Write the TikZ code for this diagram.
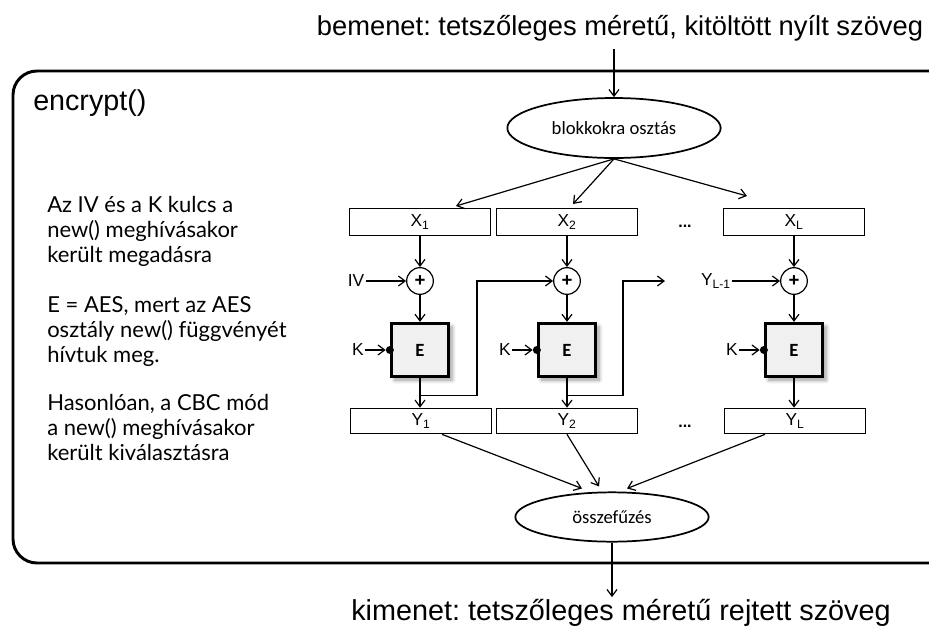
\documentclass[tikz,border=0pt]{standalone}
\usepackage{fontspec}
\setmainfont{Liberation Sans}
\newfontfamily\calib{Carlito}
\newfontfamily\handf{Lato}
\frenchspacing
\usetikzlibrary{arrows.meta,shapes.geometric,shadows.blur,calc}
\begin{document}
\begin{tikzpicture}[x=0.75pt,y=-0.75pt,
  arr/.style={line width=0.9pt,-{Straight Barb[length=5pt,width=7.5pt,line width=0.9pt]}},
  blk/.style={draw,line width=1pt,minimum width=106pt,minimum height=20pt,inner sep=0pt,font=\fontsize{13}{14}\selectfont},
  xorn/.style={draw,circle,line width=0.9pt,minimum size=20pt,inner sep=0pt,font=\fontsize{14}{14}\selectfont\bfseries},
  ebox/.style={draw,line width=2.2pt,fill=gray!12,minimum width=43pt,minimum height=40pt,inner sep=0pt,
     font=\calib\fontsize{14}{14}\selectfont\bfseries,
     blur shadow={shadow xshift=2.5pt,shadow yshift=-2.5pt,shadow blur steps=6,shadow blur radius=3pt}},
  lbl/.style={inner sep=1pt,font=\fontsize{13}{14}\selectfont},
  ell/.style={draw,ellipse,line width=1.3pt,inner sep=0pt,font=\calib\fontsize{14}{16}\selectfont},
  note/.style={anchor=base west,align=left,inner sep=0pt,font=\handf\fontsize{16.5}{18.75}\selectfont},
  dotn/.style={circle,fill=black,inner sep=0pt,minimum size=6pt}
]
\useasboundingbox (0,0) rectangle (929,629);
\begin{scope}
\clip (0,0) rectangle (929,629);
\draw[line width=2.2pt,rounded corners=18pt] (13,71) rectangle (960,563);
\end{scope}

\node[inner sep=0pt,font=\fontsize{20.5}{23}\selectfont] (in) at (620,28) {bemenet: tetszőleges méretű, kitöltött nyílt szöveg};
\node[inner sep=0pt,font=\fontsize{21.6}{23}\selectfont] (out) at (621,613) {kimenet: tetszőleges méretű rejtett szöveg};
\node[inner sep=0pt,anchor=west,font=\fontsize{21.5}{23}\selectfont] (title) at (33,103) {encrypt()};

\node[ell,minimum width=160pt,minimum height=45pt] (split) at (614,128) {blokkokra osztás};
\node[ell,minimum width=145pt,minimum height=37pt] (merge) at (612,517) {összefűzés};

% X blocks
\node[blk] (X1) at (420,222) {X\textsubscript{1}};
\node[blk] (X2) at (567,222) {X\textsubscript{2}};
\node[blk] (XL) at (794,222) {X\textsubscript{L}};
\node[lbl,font=\fontsize{12}{14}\selectfont\bfseries] (d1) at (685,226) {...};

% XOR
\node[xorn] (o1) at (420,281) {+};
\node[xorn] (o2) at (567,281) {+};
\node[xorn] (o3) at (794,281) {+};

% E boxes
\node[ebox] (E1) at (420,350) {E};
\node[ebox] (E2) at (567,350) {E};
\node[ebox] (E3) at (794,350) {E};
\node[dotn] (k1) at (E1.west) {};
\node[dotn] (k2) at (E2.west) {};
\node[dotn] (k3) at (E3.west) {};
\node[lbl] (K1) at (358,350) {K};
\node[lbl] (K2) at (505,350) {K};
\node[lbl] (K3) at (732,350) {K};

% Y blocks
\node[blk,minimum height=19pt] (Y1) at (421,421) {Y\textsubscript{1}};
\node[blk,minimum height=19pt] (Y2) at (567,421) {Y\textsubscript{2}};
\node[blk,minimum height=19pt] (YL) at (795,421) {Y\textsubscript{L}};
\node[lbl,font=\fontsize{12}{14}\selectfont\bfseries] (d2) at (685,426) {...};

% inputs
\node[lbl] (IV) at (356,281) {IV};
\node[lbl] (YLm) at (716,281) {Y\textsubscript{L-1}};

% connectors
\draw[arr,shorten <=6pt] (in.south -| split.north) -- (split.north);
\draw[arr] (split.south) -- ($(X1.north)+(36,-2)$);
\draw[arr] (split.south) -- ($(X2.north)+(6,-4)$);
\draw[arr] (split.south) -- ($(XL.north)+(-47,-12)$);

\foreach \i/\x/\e/\y/\k/\kk in {1/X1/E1/Y1/K1/k1,2/X2/E2/Y2/K2/k2,3/XL/E3/YL/K3/k3}{
  \draw[arr] (\x.south) -- (o\i.north);
  \draw[arr] (o\i.south) -- (\e.north);
  \draw[arr] (\e.south) -- (\e.south |- \y.north);
  \draw[arr] (\k.east) -- (\kk.west);
}
\draw[arr] (IV.east) -- (o1.west);
\draw[arr] (YLm.east) -- (o3.west);

\coordinate (f1) at ($(E1.south)!0.6!(E1.south |- Y1.north)$);
\coordinate (f2) at ($(E2.south)!0.6!(E2.south |- Y2.north)$);
\coordinate (fe) at (665,281);
\draw[arr] (f1) -- ++(57,0) |- (o2.west);
\draw[arr] (f2) -- ++(56,0) |- (fe);

\draw[arr] ($(Y1.south)+(21,0)$) -- ($(merge.north)+(-30,-3)$);
\draw[arr] (Y2.south) -- ($(merge.north)+(-13,-5)$);
\draw[arr] ($(YL.south)+(-30,0)$) -- ($(merge.north)+(15,-3)$);
\draw[arr] (merge.south) -- ($(out.north -| merge.south)+(0,-2)$);

% notes (base anchor = last line's baseline)
\node[note] (n1) at (47,262) {Az IV és a K kulcs a\\new() meghívásakor\\került megadásra};
\node[note] (n2) at (47,362) {E = AES, mert az AES\\osztály new() függvényét\\hívtuk meg.};
\node[note] (n3) at (47,460) {Hasonlóan, a CBC mód\\a new() meghívásakor\\került kiválasztásra};
\end{tikzpicture}
\end{document}
